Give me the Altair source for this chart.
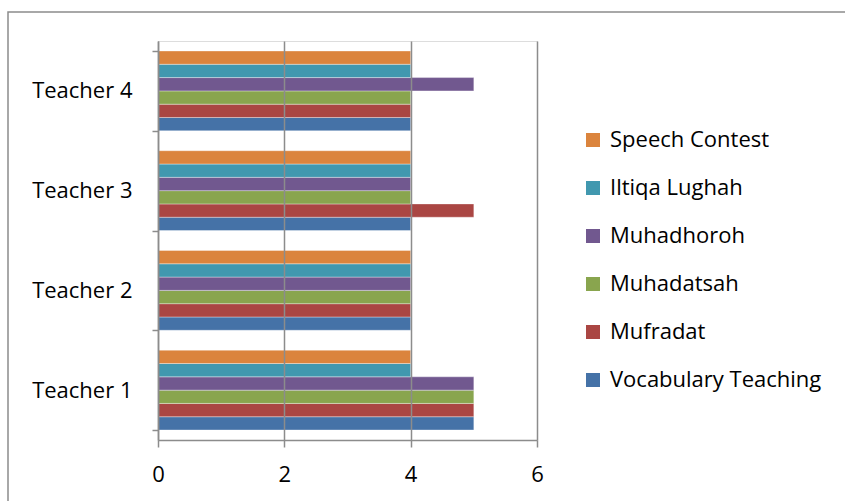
import altair as alt
import pandas as pd

teachers = ["Teacher 1", "Teacher 2", "Teacher 3", "Teacher 4"]
series = ["Vocabulary Teaching", "Mufradat", "Muhadatsah", "Muhadhoroh", "Iltiqa Lughah", "Speech Contest"]
colors = ["#4572A7", "#AA4643", "#89A54E", "#71588F", "#4198AF", "#DB843D"]
values = {
    "Vocabulary Teaching": [5, 4, 4, 4],
    "Mufradat": [5, 4, 5, 4],
    "Muhadatsah": [5, 4, 4, 4],
    "Muhadhoroh": [5, 4, 4, 5],
    "Iltiqa Lughah": [4, 4, 4, 4],
    "Speech Contest": [4, 4, 4, 4],
}

rows = []
for s in series:
    for t, v in zip(teachers, values[s]):
        rows.append({"Teacher": t, "Series": s, "Value": v})
df = pd.DataFrame(rows)

FONT = "Open Sans"
FS = 22
rev_series = series[::-1]

bars = alt.Chart(df).mark_bar(stroke="white", strokeWidth=0.6, strokeOpacity=0.6).encode(
    x=alt.X("Value:Q", scale=alt.Scale(domain=[0, 6], nice=False),
            axis=alt.Axis(values=[0, 2, 4, 6], title=None, grid=True, gridColor="#8c8c8c",
                          gridWidth=1.5, domainColor="#8c8c8c", domainWidth=1.5,
                          tickColor="#8c8c8c", tickWidth=1.5, tickSize=7, labelPadding=17,
                          labelFlush=False,
                          labelFont=FONT, labelFontSize=FS, labelColor="black", zindex=1)),
    y=alt.Y("Teacher:N", sort=teachers[::-1],
            scale=alt.Scale(paddingInner=0.2, paddingOuter=0.1),
            axis=alt.Axis(title=None, tickBand="extent", domainColor="#8c8c8c", domainWidth=1.5,
                          tickColor="#8c8c8c", tickWidth=1.5, tickSize=6, labelPadding=20,
                          labelFont=FONT, labelFontSize=FS, labelColor="black", zindex=1)),
    yOffset=alt.YOffset("Series:N", sort=rev_series),
    color=alt.Color("Series:N", scale=alt.Scale(domain=rev_series, range=colors[::-1]),
                    legend=alt.Legend(title=None, orient="none", legendX=424, legendY=88,
                                      symbolType="square", symbolSize=196, symbolStrokeWidth=0,
                                      labelFont=FONT, labelFontSize=FS, labelColor="black",
                                      labelLimit=0, rowPadding=26, labelOffset=6)),
)

border = alt.Chart(alt.Data(values=[{}])).mark_rect(
    fill=None, stroke="#8c8c8c", strokeWidth=1.5
).encode(
    x=alt.value(-150), x2=alt.value(700), y=alt.value(-29), y2=alt.value(480)
)

chart = alt.layer(border, bars).properties(
    width=379, height=399,
    padding={"left": 158, "top": 41, "right": 308, "bottom": 61},
    autosize=alt.AutoSizeParams(type="none"),
).configure_view(stroke=None).configure(background="white")

chart.save("out.html", embed_options={"renderer": "svg", "actions": False})
